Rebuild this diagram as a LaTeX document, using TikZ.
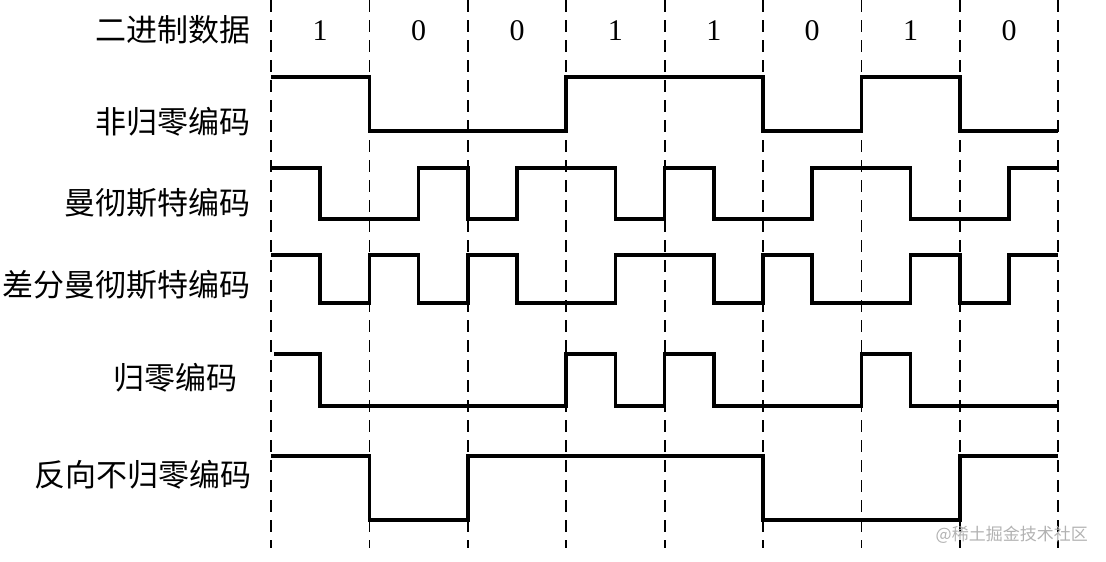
\documentclass[tikz,border=0pt]{standalone}
\usepackage{fontspec}
\setmainfont{Liberation Serif}
\newfontfamily\cjk{Noto Sans CJK SC}
\begin{document}
\begin{tikzpicture}[x=1pt,y=-1pt,
  sig/.style={line width=3.6pt, line join=miter},
  gridline/.style={line width=1.8pt, dash pattern=on 12pt off 8pt},
  lbl/.style={anchor=east, inner sep=0pt, font=\cjk\fontsize{31}{31}\selectfont},
  bitlbl/.style={inner sep=0pt, font=\fontsize{30}{30}\selectfont},
  wmark/.style={anchor=east, inner sep=0pt, text=gray!60, font=\cjk\fontsize{17}{17}\selectfont}]
\useasboundingbox (0,0) rectangle (1106,562);
% bit boundaries
\foreach \k in {0,...,8} {
  \coordinate (t\k) at ({271+98.4*\k},0);
  \coordinate (u\k) at ({271+98.4*\k},548);
  \draw[gridline] (t\k) -- (u\k);
}
% binary data
\foreach \b [count=\i from 0] in {1,0,0,1,1,0,1,0}
  \node[bitlbl] (d\i) at ({271+98.4*\i+49.2},31) {\b};
% labels
\node[lbl] (l0) at (251,30) {二进制数据};
\node[lbl] (l1) at (251,122) {非归零编码};
\node[lbl] (l2) at (251,203) {曼彻斯特编码};
\node[lbl] (l3) at (251,285) {差分曼彻斯特编码};
\node[lbl] (l4) at (238,378) {归零编码};
\node[lbl] (l5) at (252,475) {反向不归零编码};
% NRZ
\draw[sig] (271,77) -| (369.4,131) -| (566.2,77) -| (763,131) -| (861.4,77) -| (959.8,131) -- (1058.2,131);
% Manchester
\draw[sig] (271,168) -| (320.2,219) -| (418.6,168) -| (467.8,219) -| (517,168) -| (615.4,219) -| (664.6,168) -| (713.8,219) -| (812.2,168) -| (910.6,219) -| (1009,168) -- (1058.2,168);
% Differential Manchester
\draw[sig] (271,255) -| (320.2,303) -| (369.4,255) -| (418.6,303) -| (467.8,255) -| (517,303) -| (615.4,255) -| (713.8,303) -| (763,255) -| (812.2,303) -| (910.6,255) -| (959.8,303) -| (1009,255) -- (1058.2,255);
% RZ
\draw[sig] (274,354) -| (320.2,406) -| (566.2,354) -| (615.4,406) -| (664.6,354) -| (713.8,406) -| (861.4,354) -| (910.6,406) -- (1058.2,406);
% NRZI
\draw[sig] (271,456) -| (369.4,520) -| (467.8,456) -| (763,520) -| (959.8,456) -- (1058.2,456);
% watermark
\node[wmark] (wm) at (1088,535) {@稀土掘金技术社区};
\end{tikzpicture}
\end{document}
